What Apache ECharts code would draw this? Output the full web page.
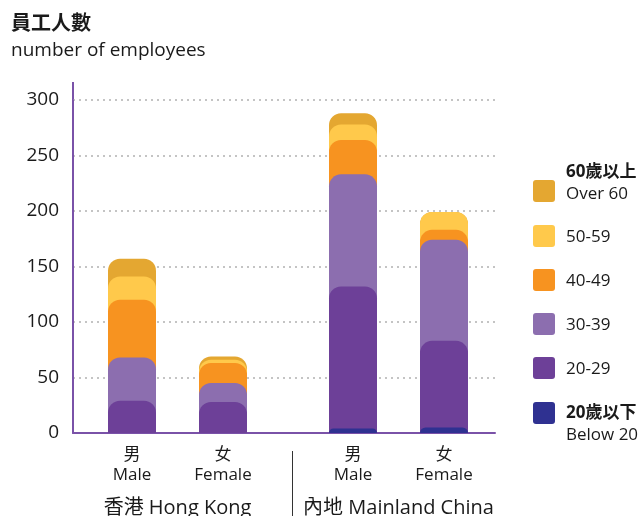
<!DOCTYPE html>
<html>
<head>
<meta charset="utf-8">
<style>
  html, body { margin: 0; padding: 0; background: #fff; }
  #chart { width: 644px; height: 516px; }
</style>
<script src="https://cdn.jsdelivr.net/npm/echarts@6/dist/echarts.min.js"></script>
</head>
<body>
<div id="chart"></div>
<script>
// Age bands, youngest first
const ageZh = ['20歲以下', '20-29', '30-39', '40-49', '50-59', '60歲以上'];
const ageEn = ['Below 20', '', '', '', '', 'Over 60'];
const ageColors = ['#2F3191', '#6D4098', '#8C6EAF', '#F79320', '#FFC94B', '#E4A731'];

// Regions and genders
const regions = ['香港 Hong Kong', '內地 Mainland China'];
const genderZh = ['男', '女'];
const genderEn = ['Male', 'Female'];

// Headcount per age band (youngest first)
const hongKongMale = [0, 29, 39, 52, 21, 16];
const hongKongFemale = [0, 28, 17, 18, 3, 3];
const mainlandMale = [4, 128, 101, 31, 14, 10];
const mainlandFemale = [5, 78, 91, 9, 16, 0];

const yTicks = [0, 50, 100, 150, 200, 250, 300];

const regionBars = [[hongKongMale, hongKongFemale], [mainlandMale, mainlandFemale]];

function runningTotals(arr) {
  let s = 0;
  return arr.map(v => (s += v));
}

const FONT = '"Open Sans", "Noto Sans CJK TC", sans-serif';
const TEXT = '#1a1a1a';
const AXIS = '#7A52A8';

const plotTop = 100, plotBottom = 83, plotLeft = 73, plotRight = 149;
const yMax = yTicks[yTicks.length - 1];

const grids = [
  { left: plotLeft, right: plotRight, top: plotTop, bottom: plotBottom, outerBoundsMode: 'none', containLabel: false },
  { left: 86.5, width: 182, top: plotTop, bottom: plotBottom, outerBoundsMode: 'none', containLabel: false },
  { left: 307.5, width: 182, top: plotTop, bottom: plotBottom, outerBoundsMode: 'none', containLabel: false }
];

const xAxes = [
  {
    gridIndex: 0, type: 'category', data: [''],
    axisLine: { lineStyle: { color: AXIS, width: 2 } },
    axisTick: { show: false }, axisLabel: { show: false }
  }
];
const yAxes = [
  {
    gridIndex: 0, type: 'value', min: 0, max: yMax, interval: 50,
    axisLine: { show: true, lineStyle: { color: AXIS, width: 2 } },
    axisTick: { show: false },
    axisLabel: { color: TEXT, fontSize: 19, fontFamily: FONT, margin: 14 },
    splitLine: { lineStyle: { color: '#c4c4c4', width: 2, type: [2, 4] } }
  }
];

const series = [];
regions.forEach((region, r) => {
  const g = r + 1;
  xAxes.push({
    gridIndex: g, type: 'category',
    data: genderZh.map((zh, i) => '{zh|' + zh + '}\n{en|' + genderEn[i] + '}'),
    axisLine: { show: false }, axisTick: { show: false },
    axisLabel: {
      margin: 12,
      rich: {
        zh: { fontSize: 17, fontFamily: FONT, color: TEXT, lineHeight: 20 },
        en: { fontSize: 17, fontFamily: FONT, color: TEXT, lineHeight: 20 }
      }
    },
    name: region, nameLocation: 'middle', nameGap: 65,
    nameTextStyle: { fontSize: 20, fontFamily: FONT, color: TEXT }
  });
  yAxes.push({
    gridIndex: g, type: 'value', min: 0, max: yMax, show: false,
    splitLine: { show: false }
  });
  const totals = regionBars[r].map(runningTotals);
  // Oldest band first so each younger layer sits in front of it
  for (let k = ageZh.length - 1; k >= 0; k--) {
    series.push({
      type: 'bar', name: ageZh[k], xAxisIndex: g, yAxisIndex: g,
      barWidth: 48, barGap: '-100%',
      itemStyle: { color: ageColors[k], borderRadius: [12, 12, 0, 0] },
      data: totals.map(t => t[k]),
      silent: true
    });
  }
});

// Legend drawn on the right, oldest band on top
const legendCenters = [413, 368, 324, 280, 236, 191];
const legendGraphics = [];
ageZh.forEach((zh, k) => {
  const cy = legendCenters[k];
  legendGraphics.push({
    type: 'rect', left: 533, top: cy - 11,
    shape: { width: 22, height: 22, r: 3 },
    style: { fill: ageColors[k] }
  });
  const twoLine = ageEn[k] !== '';
  let firstY, secondY;
  if (!twoLine) firstY = cy + 1;
  else if (k === ageZh.length - 1) { firstY = cy - 19; secondY = cy + 3; }
  else { firstY = cy; secondY = cy + 22; }
  legendGraphics.push({
    type: 'text', x: 566, y: firstY,
    style: {
      text: zh, fontSize: 17, fontWeight: twoLine ? 'bold' : 'normal',
      fontFamily: FONT, fill: TEXT, verticalAlign: 'middle'
    }
  });
  if (twoLine) {
    legendGraphics.push({
      type: 'text', x: 566, y: secondY,
      style: {
        text: ageEn[k], fontSize: 17, fontFamily: FONT, fill: TEXT, verticalAlign: 'middle'
      }
    });
  }
});

const chart = echarts.init(document.getElementById('chart'), null, { renderer: 'canvas' });
chart.setOption({
  animation: false,
  grid: grids,
  xAxis: xAxes,
  yAxis: yAxes,
  series: series,
  graphic: [
    {
      type: 'text', left: 11, top: 14,
      style: { text: '員工人數', fontSize: 20, fontWeight: 'bold', fontFamily: FONT, fill: TEXT }
    },
    {
      type: 'text', left: 11, top: 41,
      style: { text: 'number of employees', fontSize: 19, fontFamily: FONT, fill: TEXT }
    },
    {
      type: 'line', shape: { x1: 73, y1: 82, x2: 73, y2: 101 },
      style: { stroke: AXIS, lineWidth: 2 }
    },
    {
      type: 'line', shape: { x1: 292.5, y1: 451, x2: 292.5, y2: 516 },
      style: { stroke: '#333', lineWidth: 1 }
    }
  ].concat(legendGraphics)
});
</script>
</body>
</html>
